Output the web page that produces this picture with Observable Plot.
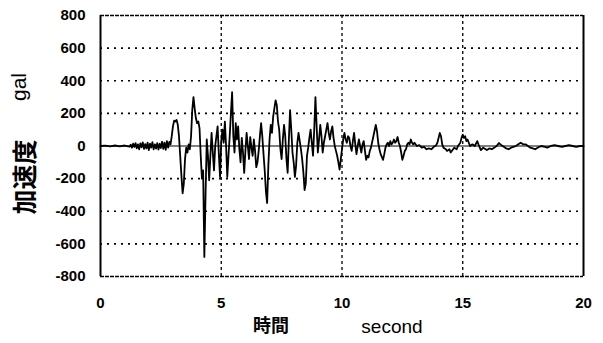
<!DOCTYPE html>
<html>
<head>
<meta charset="utf-8">
<script src="https://cdn.jsdelivr.net/npm/d3@7"></script>
<script src="https://cdn.jsdelivr.net/npm/@observablehq/plot@0.6"></script>
<style>
  html, body { margin: 0; padding: 0; background: #fff; }
</style>
</head>
<body>
<div id="chart"></div>
<script>
// [time (second), acceleration (gal)] read from the record, in four stretches
const quiet = [
  [0, 0], [0.2, 2], [0.4, -2], [0.6, 3], [0.8, -2], [1.0, 3], [1.2, -4]
];
const preEvent = [
  [1.25, 8], [1.3, -10], [1.35, 14], [1.4, -6], [1.45, 18], [1.5, -14], [1.55, 10], [1.6, -20],
  [1.65, 16], [1.7, -8], [1.75, 22], [1.8, -18], [1.85, 12], [1.9, -15], [1.95, 20], [2.0, -25],
  [2.05, 15], [2.1, -10], [2.15, 24], [2.2, -20], [2.25, 10], [2.3, -16], [2.35, 18], [2.4, -22],
  [2.45, 14], [2.5, -12], [2.55, 26], [2.6, -18], [2.65, 20], [2.7, -24], [2.75, 30], [2.8, -10],
  [2.85, 25], [2.9, 10]
];
const strongMotion = [
  [2.95, 60], [3.0, 120], [3.05, 155], [3.1, 150], [3.15, 160], [3.2, 130], [3.25, 60], [3.3, -60],
  [3.35, -180], [3.4, -290], [3.45, -230], [3.5, -80], [3.55, -10], [3.6, -40], [3.65, 10], [3.7, -20],
  [3.75, 60], [3.8, 220], [3.85, 300], [3.9, 230], [3.95, 170], [4.0, 140], [4.05, 150], [4.1, 110],
  [4.15, -60], [4.2, -200], [4.25, -150], [4.3, -680], [4.35, -300], [4.4, 40], [4.45, -60], [4.5, -210],
  [4.55, -60], [4.6, 80], [4.65, -40], [4.7, -150], [4.75, 0], [4.8, 60], [4.85, 120], [4.9, -50],
  [4.95, -190], [5.0, 30], [5.05, 100], [5.1, 20], [5.15, 150], [5.2, 0], [5.25, -190], [5.3, -60],
  [5.35, 60], [5.4, 200], [5.45, 330], [5.5, 60], [5.55, -40], [5.6, 140], [5.65, 40], [5.7, 120],
  [5.75, -20], [5.8, -100], [5.85, 50], [5.9, -40], [5.95, -165], [6.0, -30], [6.05, 80], [6.1, 0],
  [6.15, -80], [6.2, 55], [6.25, -10], [6.3, -60], [6.35, 40], [6.4, -30], [6.45, -130], [6.5, -100],
  [6.55, -30], [6.6, 60], [6.65, 140], [6.7, 60], [6.75, -50], [6.8, -150], [6.85, -280], [6.9, -350],
  [6.95, -120], [7.0, 40], [7.05, 130], [7.1, 80], [7.15, 180], [7.2, 230], [7.25, 280], [7.3, 250],
  [7.35, 150], [7.4, 100], [7.45, -20], [7.5, -80], [7.55, 40], [7.6, 130], [7.65, 60], [7.7, -80],
  [7.75, -165], [7.8, 40], [7.85, 220], [7.9, 100], [7.95, -40], [8.0, -100], [8.05, -190], [8.1, -120],
  [8.15, 20], [8.2, 80], [8.25, 30], [8.3, -20], [8.35, -80], [8.4, -160], [8.45, -270], [8.5, -230],
  [8.55, -60], [8.6, -10], [8.65, 50], [8.7, 100], [8.75, 20], [8.8, -60], [8.85, 100], [8.9, 300],
  [8.95, 120], [9.0, -40], [9.05, 40], [9.1, 130], [9.15, 60], [9.2, -40], [9.25, 20], [9.3, 60],
  [9.35, 100], [9.4, 140], [9.45, 80], [9.5, 40], [9.55, 90], [9.6, 120], [9.65, 50], [9.7, 0],
  [9.75, -30], [9.8, -60], [9.85, -100], [9.9, -145], [9.95, -80]
];
const coda = [
  [10.0, -20], [10.05, 40], [10.1, 80], [10.15, 40], [10.2, 20], [10.25, 60], [10.3, 50], [10.35, 0],
  [10.4, -30], [10.45, 30], [10.5, 80], [10.55, 10], [10.6, -50], [10.65, 0], [10.7, 40], [10.75, 0],
  [10.8, -40], [10.85, 10], [10.9, 30], [10.95, -30], [11.0, -85], [11.05, -60], [11.1, -70], [11.15, -30],
  [11.2, -10], [11.3, 60], [11.4, 130], [11.45, 90], [11.5, 20], [11.55, -20], [11.6, -50], [11.7, -85],
  [11.75, -50], [11.8, -10], [11.85, 10], [11.9, 20], [11.95, 0], [12.0, 30], [12.05, 10], [12.1, 20],
  [12.15, 40], [12.2, 20], [12.25, 30], [12.3, 55], [12.35, 20], [12.4, 0], [12.45, -40], [12.5, -85],
  [12.55, -60], [12.6, -30], [12.65, -20], [12.7, 10], [12.75, 20], [12.8, 10], [12.85, 40], [12.9, 20],
  [12.95, 10], [13.0, 20], [13.1, 0], [13.2, 5], [13.3, -10], [13.4, -5], [13.5, -20], [13.6, -15],
  [13.7, -20], [13.8, -5], [13.9, 5], [13.95, 20], [14.05, 80], [14.1, 60], [14.15, 10], [14.2, -10],
  [14.3, -20], [14.35, -30], [14.45, -20], [14.5, -40], [14.6, -20], [14.65, -10], [14.75, -20], [14.8, 0],
  [14.9, 20], [14.95, 50], [15.0, 70], [15.05, 50], [15.1, 60], [15.15, 30], [15.2, 40], [15.25, 20],
  [15.3, 0], [15.4, 10], [15.5, 0], [15.6, 30], [15.65, 10], [15.75, -25], [15.85, -10], [16.0, -25],
  [16.1, -15], [16.2, -20], [16.3, -10], [16.4, 0], [16.5, 18], [16.6, 5], [16.7, -5], [16.8, -15],
  [16.9, -20], [17.0, -10], [17.1, -5], [17.2, 0], [17.3, 10], [17.4, 20], [17.5, 10], [17.6, 10],
  [17.7, 0], [17.8, -10], [17.9, -15], [18.0, -20], [18.1, -10], [18.25, 0], [18.4, -5], [18.5, -10],
  [18.65, 0], [18.8, 5], [18.95, 0], [19.1, -5], [19.25, 0], [19.4, 5], [19.55, 0], [19.7, -5],
  [19.85, 0], [20.0, 0]
];
const xTicks = [0, 5, 10, 15, 20];
const yTicks = [-800, -600, -400, -200, 0, 200, 400, 600, 800];
const yGrid = [-600, -400, -200, 200, 400, 600];
const xGrid = [5, 10, 15];

const record = [...quiet, ...preEvent, ...strongMotion, ...coda].map(([t, v]) => ({t, v}));

const chart = Plot.plot({
  width: 603,
  height: 343,
  marginLeft: 100,
  marginRight: 20,
  marginTop: 15,
  marginBottom: 67,
  style: {fontFamily: "'Liberation Sans', Arial, sans-serif", color: "#000", background: "#fff"},
  x: {domain: [0, 20]},
  y: {domain: [-800, 800]},
  marks: [
    Plot.ruleY(yGrid, {stroke: "#000", strokeWidth: 1.6, strokeDasharray: "2,5"}),
    Plot.ruleX(xGrid, {stroke: "#000", strokeWidth: 1.3, strokeDasharray: "3,3"}),
    Plot.ruleY([0], {stroke: "#000", strokeWidth: 1}),
    Plot.ruleY([-800, 800], {stroke: "#000", strokeWidth: 1.4, strokeDasharray: "4,1"}),
    Plot.ruleX([0, 20], {stroke: "#000", strokeWidth: 2}),
    Plot.line(record, {x: "t", y: "v", stroke: "#000", strokeWidth: 1.8, strokeLinejoin: "round"}),
    Plot.axisX({ticks: xTicks, tickSize: 0, tickPadding: 21, fontSize: 15, fontWeight: "bold", label: null, tickFormat: d => String(d)}),
    Plot.axisY({ticks: yTicks, tickSize: 0, tickPadding: 15, fontSize: 15, fontWeight: "bold", label: null, tickFormat: d => String(d)}),
    Plot.text(["加速度"], {frameAnchor: "left", textAnchor: "middle", lineAnchor: "middle", dx: -75, dy: 31, rotate: -90, fontSize: 25, fontWeight: "bold", fontFamily: "'Noto Sans CJK JP', sans-serif", fill: "#000"}),
    Plot.text(["gal"], {frameAnchor: "left", textAnchor: "middle", lineAnchor: "middle", dx: -81, dy: -59, rotate: -90, fontSize: 21, fill: "#000"}),
    Plot.text(["時間"], {frameAnchor: "bottom", textAnchor: "middle", lineAnchor: "middle", dx: -71, dy: 50, fontSize: 18, fontWeight: "bold", fontFamily: "'Noto Sans CJK JP', sans-serif", fill: "#000"}),
    Plot.text(["second"], {frameAnchor: "bottom", textAnchor: "middle", lineAnchor: "middle", dx: 50, dy: 50, fontSize: 19, fill: "#000"})
  ]
});
document.getElementById("chart").appendChild(chart);
</script>
</body>
</html>
